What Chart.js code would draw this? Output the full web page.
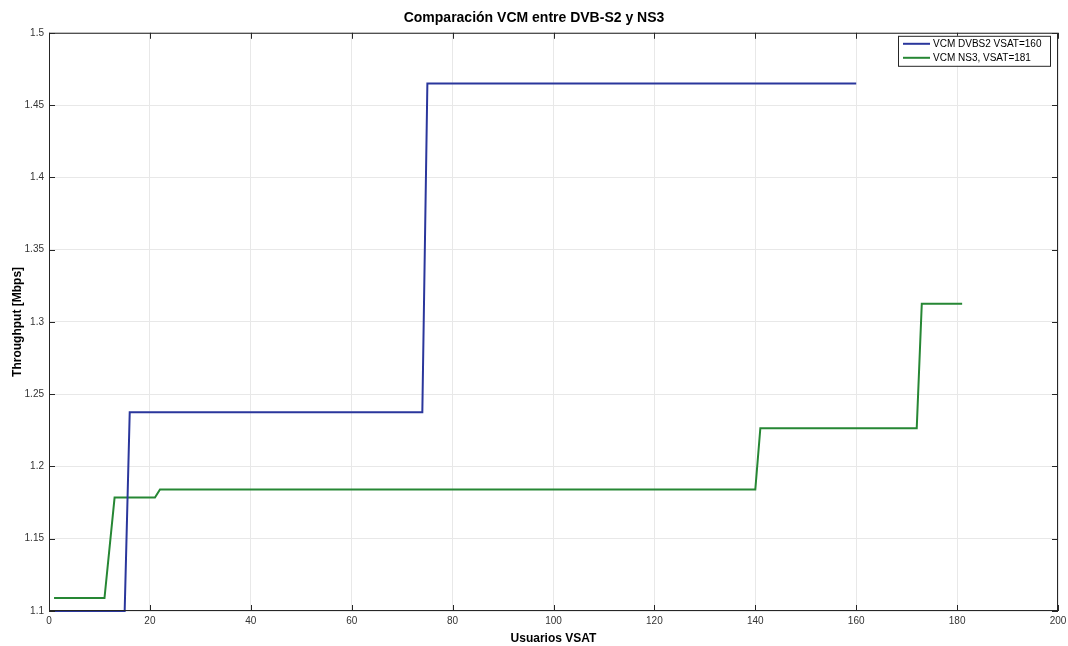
<!DOCTYPE html>
<html>
<head>
<meta charset="utf-8">
<script src="https://cdn.jsdelivr.net/npm/chart.js@4.4.1/dist/chart.umd.min.js"></script>
<style>
  html, body { margin: 0; padding: 0; background: #fff; }
  #wrap { width: 1068px; height: 646px; }
</style>
</head>
<body>
<div id="wrap"><canvas id="vcmChart"></canvas></div>
<script>
// valores
const dvbLabel = 'VCM DVBS2 VSAT=160';
const dvbX = [1, 15, 16, 74, 75, 160];
const dvbY = [1.1, 1.1, 1.2375, 1.2375, 1.465, 1.465];

const ns3Label = 'VCM NS3, VSAT=181';
const ns3X = [1, 11, 13, 21, 22, 140, 141, 172, 173, 181];
const ns3Y = [1.109, 1.109, 1.1785, 1.1785, 1.184, 1.184, 1.2265, 1.2265, 1.3125, 1.3125];

const xTicks = [0, 20, 40, 60, 80, 100, 120, 140, 160, 180, 200];
const yTicks = [1.1, 1.15, 1.2, 1.25, 1.3, 1.35, 1.4, 1.45, 1.5];

const toPoints = (xs, ys) => xs.map((x, i) => ({ x: x, y: ys[i] }));
const FONT = '"Liberation Sans", Arial, sans-serif';

// marco completo + marcas hacia adentro (estilo matlab)
const boxPlugin = {
    id: 'box',
    afterDraw(chart) {
        const { ctx, chartArea: a, scales } = chart;
        ctx.save();
        ctx.strokeStyle = '#262626';
        ctx.lineWidth = 1;
        ctx.strokeRect(a.left + 0.5, a.top + 0.5, a.right - a.left - 1, a.bottom - a.top - 1);
        ctx.beginPath();
        xTicks.forEach(v => {
            const px = Math.round(scales.x.getPixelForValue(v)) + 0.5;
            ctx.moveTo(px, a.bottom); ctx.lineTo(px, a.bottom - 6);
            ctx.moveTo(px, a.top); ctx.lineTo(px, a.top + 6);
        });
        yTicks.forEach(v => {
            const py = Math.round(scales.y.getPixelForValue(v)) + 0.5;
            ctx.moveTo(a.left, py); ctx.lineTo(a.left + 6, py);
            ctx.moveTo(a.right, py); ctx.lineTo(a.right - 6, py);
        });
        ctx.stroke();
        ctx.restore();
    }
};

// leyenda dentro del area, arriba a la derecha
const legendPlugin = {
    id: 'insideLegend',
    afterDraw(chart) {
        const { ctx, chartArea: a } = chart;
        const w = 152, h = 30;
        const x0 = a.right - w - 8, y0 = a.top + 3;
        ctx.save();
        ctx.fillStyle = '#fff';
        ctx.fillRect(x0, y0, w, h);
        ctx.strokeStyle = '#262626';
        ctx.lineWidth = 1;
        ctx.strokeRect(x0 + 0.5, y0 + 0.5, w, h);
        ctx.font = '10px ' + FONT;
        ctx.textBaseline = 'middle';
        chart.data.datasets.forEach((ds, i) => {
            const yy = y0 + 8 + i * 14;
            ctx.strokeStyle = ds.borderColor;
            ctx.lineWidth = 2;
            ctx.beginPath();
            ctx.moveTo(x0 + 5, yy); ctx.lineTo(x0 + 32, yy);
            ctx.stroke();
            ctx.fillStyle = '#000';
            ctx.fillText(ds.label, x0 + 35, yy);
        });
        ctx.restore();
    }
};

new Chart(document.getElementById('vcmChart'), {
    type: 'line',
    data: {
        datasets: [
            { label: dvbLabel, data: toPoints(dvbX, dvbY), borderColor: '#2a369c', borderWidth: 2, pointRadius: 0, tension: 0, clip: 5 },
            { label: ns3Label, data: toPoints(ns3X, ns3Y), borderColor: '#268734', borderWidth: 2, pointRadius: 0, tension: 0, clip: 5 }
        ]
    },
    options: {
        responsive: true,
        maintainAspectRatio: false,
        animation: false,
        layout: { padding: { top: 2, right: 10, left: 10, bottom: 0 } },
        plugins: {
            legend: { display: false },
            tooltip: { enabled: false },
            title: {
                display: true,
                text: 'Comparación VCM entre DVB-S2 y NS3',
                color: '#000',
                font: { family: FONT, size: 14, weight: 'bold' },
                padding: { top: 8, bottom: 6 }
            }
        },
        scales: {
            x: {
                type: 'linear',
                min: 0, max: 200,
                afterBuildTicks: s => { s.ticks = xTicks.map(v => ({ value: v })); },
                afterFit: s => { s.height = 35; s.paddingRight = 0; s.paddingLeft = 0; },
                grid: { color: '#e8e8e8', drawTicks: false },
                border: { display: false },
                ticks: { color: '#333', font: { family: FONT, size: 10 }, padding: 4 },
                title: { display: true, text: 'Usuarios VSAT', color: '#000', font: { family: FONT, size: 12, weight: 'bold' }, padding: { top: 0, bottom: 0 } }
            },
            y: {
                type: 'linear',
                min: 1.1, max: 1.5,
                afterBuildTicks: s => { s.ticks = yTicks.map(v => ({ value: v })); },
                afterFit: s => { s.width = 39; },
                grid: { color: '#e8e8e8', drawTicks: false },
                border: { display: false },
                ticks: { color: '#333', font: { family: FONT, size: 10 }, padding: 5,
                         callback: v => String(Number(v.toFixed(2))) },
                title: { display: true, text: 'Throughput [Mbps]', color: '#000', font: { family: FONT, size: 12, weight: 'bold' }, padding: { top: 0, bottom: 0 } }
            }
        }
    },
    plugins: [boxPlugin, legendPlugin]
});
</script>
</body>
</html>
